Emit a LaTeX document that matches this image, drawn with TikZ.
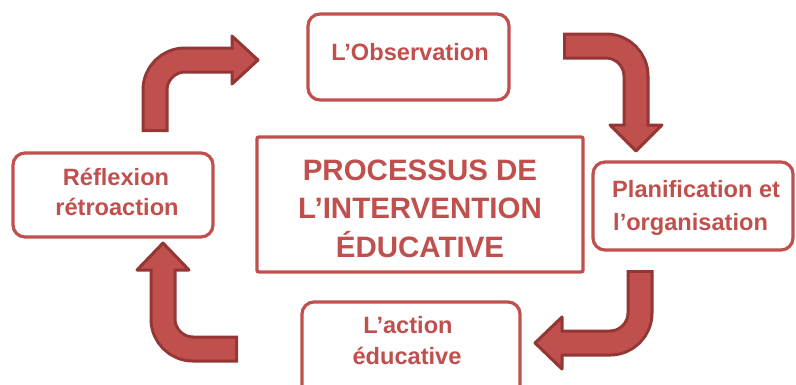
\documentclass[tikz,border=0pt]{standalone}
\usepackage{fontspec}
\setmainfont{Liberation Sans}
\definecolor{redfill}{HTML}{C0504D}
\definecolor{redline}{HTML}{943634}
\tikzset{
  roundbox/.style={draw=redfill, line width=3.2pt, rounded corners=12pt, fill=white},
  mainbox/.style={draw=redfill, line width=3.4pt, rounded corners=2pt, fill=white},
  smalltxt/.style={text=redfill, font=\fontsize{23.6}{31}\selectfont\bfseries, inner sep=0pt, anchor=base},
  bigtxt/.style={text=redfill, font=\fontsize{29.5}{38}\selectfont\bfseries, inner sep=0pt, anchor=base},
  shaftout/.style={draw=redline, line width=27pt, rounded corners=30pt},
  shaftin/.style={draw=redfill, line width=21pt, rounded corners=30pt},
  head/.style={fill=redfill, draw=redline, line width=3pt, line join=round},
}
\begin{document}
\begin{tikzpicture}[x=1pt,y=-1pt]
\useasboundingbox (0,0) rectangle (796,384);
\begin{scope}
\clip (0,0) rectangle (796,384);
% boxes
\path[roundbox] (308,14) rectangle (509,100);
\path[roundbox] (593,162) rectangle (793,250);
\path[roundbox] (302,302) rectangle (520,398);
\path[roundbox] (13,153) rectangle (213,237);
\path[mainbox] (257,137) rectangle (583,272);
\end{scope}
% texts
\node[smalltxt] (obs) at (410,60) {L’Observation};
\node[smalltxt, anchor=base west] (plan1) at (612,197) {Planification et};
\node[smalltxt, anchor=base west] (plan2) at (613,230) {l’organisation};
\node[smalltxt] (act1) at (408,333) {L’action};
\node[smalltxt] (act2) at (407,364) {éducative};
\node[smalltxt] (ref1) at (116,185) {Réflexion};
\node[smalltxt] (ref2) at (117,215) {rétroaction};
\node[bigtxt] (c1) at (420,180) {PROCESSUS DE};
\node[bigtxt] (c2) at (420,218) {L’INTERVENTION};
\node[bigtxt] (c3) at (420,257) {ÉDUCATIVE};
% arrow 1 (top left)
\coordinate (a1s) at (155,132);
\coordinate (a1c) at (155,60);
\coordinate (a1e) at (232,60);
\draw[shaftout] (a1s) -- (a1c) -- (a1e);
\draw[head] (232,36) -- (258,60) -- (232,84) -- cycle;
\draw[shaftin] ([yshift=3pt]a1s) -- (a1c) -- ([xshift=3pt]a1e);
% arrow 2 (top right)
\coordinate (a2s) at (563,46);
\coordinate (a2c) at (636,46);
\coordinate (a2e) at (636,125);
\draw[shaftout] (a2s) -- (a2c) -- (a2e);
\draw[head] (610,125) -- (636,151) -- (662,125) -- cycle;
\draw[shaftin] ([xshift=3pt]a2s) -- (a2c) -- ([yshift=-3pt]a2e);
% arrow 3 (bottom right)
\coordinate (a3s) at (640,270);
\coordinate (a3c) at (640,343);
\coordinate (a3e) at (562,343);
\draw[shaftout] (a3s) -- (a3c) -- (a3e);
\draw[head] (562,317) -- (535,343) -- (562,369) -- cycle;
\draw[shaftin] ([yshift=-3pt]a3s) -- (a3c) -- ([xshift=-3pt]a3e);
% arrow 4 (bottom left)
\coordinate (a4s) at (238,349);
\coordinate (a4c) at (163,349);
\coordinate (a4e) at (163,270);
\draw[shaftout] (a4s) -- (a4c) -- (a4e);
\draw[head] (137,270) -- (163,243) -- (189,270) -- cycle;
\draw[shaftin] ([xshift=-3pt]a4s) -- (a4c) -- ([yshift=3pt]a4e);
\end{tikzpicture}
\end{document}
